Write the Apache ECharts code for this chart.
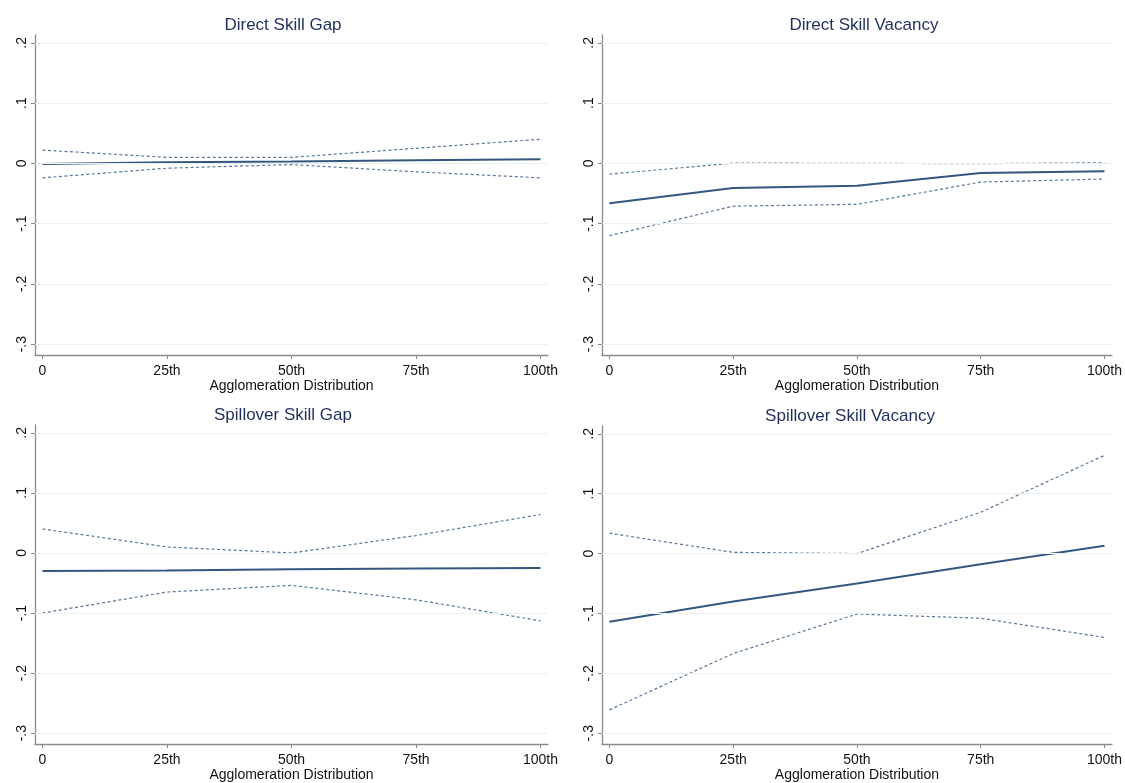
<!DOCTYPE html>
<html>
<head>
<meta charset="utf-8">
<script src="https://cdn.jsdelivr.net/npm/echarts@6/dist/echarts.min.js"></script>
<style>
html,body{margin:0;padding:0;background:#fff;}
#chart{width:1125px;height:783px;}
</style>
</head>
<body>
<div id="chart"></div>
<script>
// ---- data ----
const panelTitles = ['Direct Skill Gap', 'Direct Skill Vacancy', 'Spillover Skill Gap', 'Spillover Skill Vacancy'];
const xValues = [0, 25, 50, 75, 100];
const xTickLabels = ['0', '25th', '50th', '75th', '100th'];
const yTickValues = [-0.3, -0.2, -0.1, 0, 0.1, 0.2];
const yTickLabels = ['-.3', '-.2', '-.1', '0', '.1', '.2'];
const xAxisTitle = 'Agglomeration Distribution';

const gapDirectEst   = [-0.001, 0.002, 0.003, 0.005, 0.007];
const gapDirectUpper = [0.022, 0.010, 0.010, 0.025, 0.040];
const gapDirectLower = [-0.024, -0.008, -0.002, -0.014, -0.024];

const vacDirectEst   = [-0.066, -0.041, -0.037, -0.016, -0.013];
const vacDirectUpper = [-0.018, 0.0005, 0.0, -0.0005, 0.001];
const vacDirectLower = [-0.120, -0.071, -0.068, -0.031, -0.026];

const gapSpillEst    = [-0.030, -0.029, -0.027, -0.026, -0.025];
const gapSpillUpper  = [0.040, 0.010, 0.000, 0.029, 0.064];
const gapSpillLower  = [-0.100, -0.065, -0.054, -0.078, -0.113];

const vacSpillEst    = [-0.114, -0.080, -0.050, -0.018, 0.013];
const vacSpillUpper  = [0.034, 0.002, 0.000, 0.069, 0.164];
const vacSpillLower  = [-0.261, -0.167, -0.101, -0.108, -0.140];

const panelData = [
  [gapDirectEst, gapDirectUpper, gapDirectLower],
  [vacDirectEst, vacDirectUpper, vacDirectLower],
  [gapSpillEst, gapSpillUpper, gapSpillLower],
  [vacSpillEst, vacSpillUpper, vacSpillLower]
];

// ---- layout ----
const grids = [
  {left: 35, top: 35, width: 513, height: 320},
  {left: 602, top: 35, width: 514, height: 320},
  {left: 35, top: 425, width: 513, height: 320},
  {left: 602, top: 426, width: 514, height: 320}
];
const titlePos = [
  {x: 278, y: 12},
  {x: 859, y: 12},
  {x: 278, y: 402},
  {x: 845, y: 403}
];

const lineColor = '#34577f';
const ciColor = '#5a7799';
const axisColor = '#8a8a8a';
const textColor = '#111';
const font = 'Liberation Sans, Arial, sans-serif';

function ylab(v) {
  for (let i = 0; i < yTickValues.length; i++) {
    if (Math.abs(yTickValues[i] - v) < 1e-6) return yTickLabels[i];
  }
  return '';
}
function xlab(v) {
  for (let i = 0; i < xValues.length; i++) {
    if (Math.abs(xValues[i] - v) < 1e-6) return xTickLabels[i];
  }
  return '';
}

const option = {
  backgroundColor: '#fff',
  animation: false,
  title: panelTitles.map((t, i) => ({
    text: t,
    left: titlePos[i].x,
    top: titlePos[i].y,
    textAlign: 'center',
    textStyle: {fontFamily: font, fontSize: 17, fontWeight: 'normal', color: '#1e2f5c'}
  })),
  grid: grids.map(g => Object.assign({containLabel: false}, g)),
  xAxis: grids.map((g, i) => ({
    type: 'value',
    gridIndex: i,
    min: -1.5,
    max: 101.5,
    name: xAxisTitle,
    nameLocation: 'middle',
    nameGap: 24,
    nameTextStyle: {fontFamily: font, fontSize: 14, color: textColor},
    axisLine: {show: true, onZero: false, lineStyle: {color: axisColor, width: 1.3}},
    axisTick: {show: true, length: 4, customValues: xValues, lineStyle: {color: axisColor}},
    axisLabel: {show: true, customValues: xValues, formatter: xlab, fontFamily: font, fontSize: 14, color: textColor, margin: 9},
    splitLine: {show: false}
  })),
  yAxis: grids.map((g, i) => ({
    type: 'value',
    gridIndex: i,
    min: -0.318,
    max: 0.213,
    axisLine: {show: true, onZero: false, lineStyle: {color: axisColor, width: 1.3}},
    axisTick: {show: true, length: 4, customValues: yTickValues, lineStyle: {color: axisColor}},
    axisLabel: {show: true, customValues: yTickValues, formatter: ylab, rotate: 90, fontFamily: font, fontSize: 14, color: textColor, margin: 6},
    splitLine: {show: false}
  })),
  series: []
};

panelData.forEach((pd, i) => {
  const [est, up, lo] = pd;
  // gridlines
  option.series.push({
    type: 'line', xAxisIndex: i, yAxisIndex: i, data: [], silent: true,
    markLine: {
      silent: true, symbol: 'none', label: {show: false},
      lineStyle: {color: '#e8f0f2', type: 'solid', width: 1.2},
      data: yTickValues.map(v => ({yAxis: v}))
    },
    z: 1
  });
  option.series.push({
    type: 'line', xAxisIndex: i, yAxisIndex: i, symbol: 'none',
    data: xValues.map((x, k) => [x, up[k]]),
    lineStyle: {color: ciColor, width: 1.2, type: [3, 2.5]}, z: 3
  });
  option.series.push({
    type: 'line', xAxisIndex: i, yAxisIndex: i, symbol: 'none',
    data: xValues.map((x, k) => [x, lo[k]]),
    lineStyle: {color: ciColor, width: 1.2, type: [3, 2.5]}, z: 3
  });
  option.series.push({
    type: 'line', xAxisIndex: i, yAxisIndex: i, symbol: 'none',
    data: xValues.map((x, k) => [x, est[k]]),
    lineStyle: {color: lineColor, width: 2, type: 'solid'}, z: 4
  });
});

const chart = echarts.init(document.getElementById('chart'), null, {renderer: 'canvas'});
chart.setOption(option);
</script>
</body>
</html>
